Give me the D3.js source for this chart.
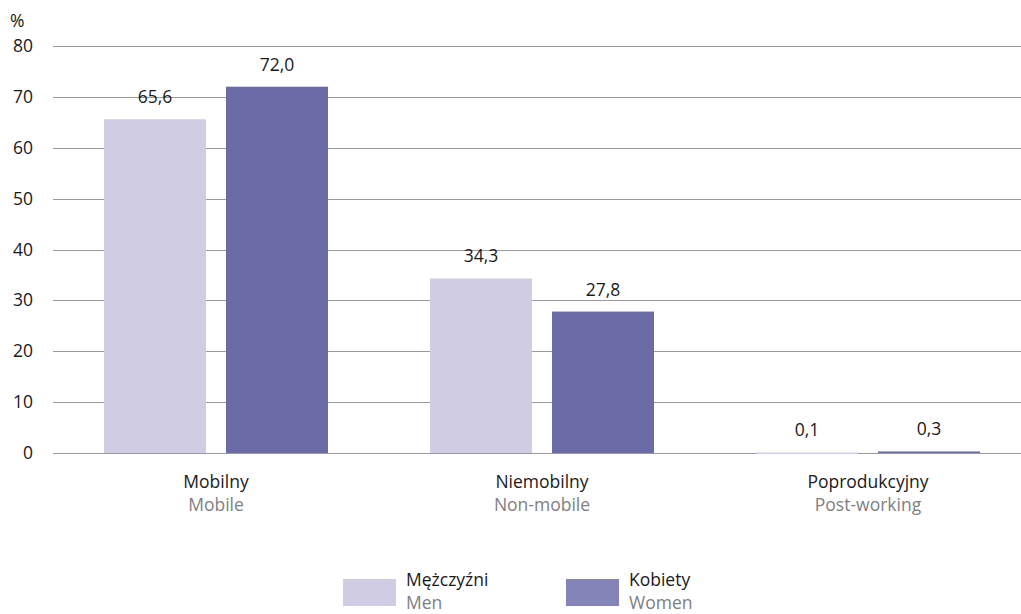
<!DOCTYPE html>
<html><head><meta charset="utf-8">
<script src="https://cdn.jsdelivr.net/npm/d3@7"></script>
<style>body{margin:0;background:#fff;} svg{display:block;font-family:"Open Sans","Noto Sans",sans-serif;}</style>
</head><body><svg id="c" width="1021" height="614"></svg>
<script>
const categoriesPl = ["Mobilny", "Niemobilny", "Poprodukcyjny"];
const categoriesEn = ["Mobile", "Non-mobile", "Post-working"];
const seriesPl = ["Mężczyźni", "Kobiety"];
const seriesEn = ["Men", "Women"];
const menValues = [65.6, 34.3, 0.1];
const womenValues = [72.0, 27.8, 0.3];
const yTicks = [0, 10, 20, 30, 40, 50, 60, 70, 80];
const barColors = ["#cfcce3", "#6b6ba8"];
const legendColors = ["#cfcce3", "#8584b8"];

const FS = 17.5;
const svg = d3.select("#c");
const x0 = d3.scaleBand().domain(categoriesPl).range([53, 1031]);
const x1 = d3.scaleBand().domain([0, 1]).range([51, 275]).paddingInner(0.164);
const y = d3.scaleLinear().domain([0, 80]).range([453, 46]);
const fmt = v => d3.format(".1f")(v).replace(".", ",");

// gridlines
svg.append("g").selectAll("line").data(yTicks).join("line")
  .attr("x1", 53).attr("x2", 1021)
  .attr("y1", d => Math.round(y(d)) + 0.5).attr("y2", d => Math.round(y(d)) + 0.5)
  .attr("stroke", "#9a9a9a").attr("stroke-width", 1);

// y labels
const yAxis = d3.axisLeft(y).tickValues(yTicks).tickSize(0).tickPadding(0);
const ya = svg.append("g").attr("transform", "translate(33,0)").call(yAxis);
ya.select(".domain").remove();
ya.selectAll("text").attr("font-size", FS).attr("fill", "#1a1a1a")
  .attr("font-family", "'Open Sans','Noto Sans',sans-serif");
svg.append("text").attr("x", 10).attr("y", 27).attr("font-size", FS).attr("fill", "#1a1a1a").text("%");

const data = categoriesPl.map((c, i) => ({c, i, vals: [menValues[i], womenValues[i]]}));
const groups = svg.append("g").selectAll("g").data(data).join("g")
  .attr("transform", d => `translate(${x0(d.c)},0)`);
groups.selectAll("rect").data(d => d.vals.map((v, s) => ({v, s}))).join("rect")
  .attr("x", d => x1(d.s)).attr("width", x1.bandwidth())
  .attr("y", d => y(d.v)).attr("height", d => Math.max(y(0) - y(d.v), 1.5))
  .attr("fill", d => barColors[d.s]);
groups.selectAll("text.val").data(d => d.vals.map((v, s) => ({v, s}))).join("text")
  .attr("class", "val")
  .attr("x", d => x1(d.s) + x1.bandwidth() / 2).attr("y", d => y(d.v) - 16)
  .attr("text-anchor", "middle").attr("font-size", FS).attr("fill", "#1a1a1a")
  .text(d => fmt(d.v));

// category labels
groups.append("text").attr("x", x0.bandwidth() / 2).attr("y", 488)
  .attr("text-anchor", "middle").attr("font-size", FS).attr("fill", "#1a1a1a").text(d => d.c);
groups.append("text").attr("x", x0.bandwidth() / 2).attr("y", 511)
  .attr("text-anchor", "middle").attr("font-size", FS).attr("fill", "#808080").text(d => categoriesEn[d.i]);

// legend
const legX = [343, 566];
const lg = svg.append("g").selectAll("g").data(seriesPl).join("g")
  .attr("transform", (d, i) => `translate(${legX[i]},0)`);
lg.append("rect").attr("x", 0).attr("y", 579).attr("width", 53).attr("height", 27)
  .attr("fill", (d, i) => legendColors[i]);
lg.append("text").attr("x", 63).attr("y", 586).attr("font-size", FS).attr("fill", "#1a1a1a").text(d => d);
lg.append("text").attr("x", 63).attr("y", 609).attr("font-size", FS).attr("fill", "#808080").text((d, i) => seriesEn[i]);
</script></body></html>
